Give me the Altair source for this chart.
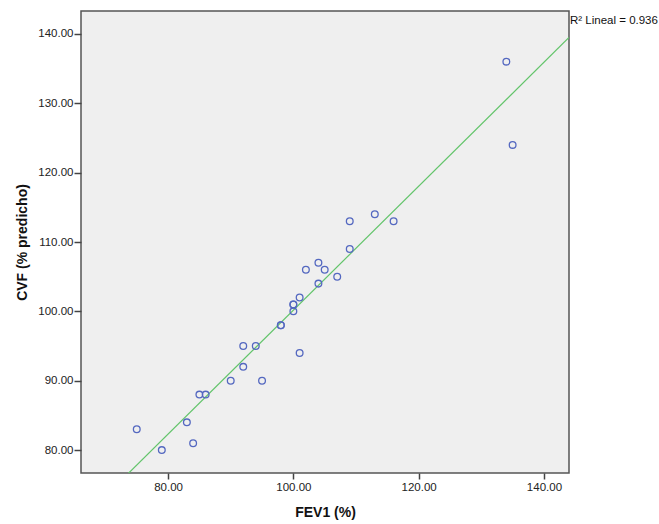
import altair as alt
import pandas as pd

fev1 = [75, 79, 83, 84, 85, 86, 90, 92, 92, 94, 95, 98, 98, 100, 100, 100,
        101, 101, 102, 104, 104, 105, 107, 109, 109, 113, 116, 134, 135]
cvf = [83, 80, 84, 81, 88, 88, 90, 92, 95, 95, 90, 98, 98, 100, 101, 101,
       102, 94, 106, 104, 107, 106, 105, 113, 109, 114, 113, 136, 124]
x_ticks = [80, 100, 120, 140]
y_ticks = [80, 90, 100, 110, 120, 130, 140]
x_domain = [66.1, 144.0]
y_domain = [76.7, 143.3]
r2_label = ["R\u00b2 Lineal = 0.936"]

df = pd.DataFrame({"FEV1": fev1, "CVF": cvf})

xs = alt.Scale(domain=x_domain, nice=False, zero=False)
ys = alt.Scale(domain=y_domain, nice=False, zero=False)

x_axis = alt.Axis(values=x_ticks, format=".2f", title="FEV1 (%)", grid=False,
                  domain=False, tickSize=6, tickColor="#444", tickWidth=1.5,
                  labelPadding=2, labelFont="Liberation Sans", labelFontSize=11.5,
                  labelColor="#222", titleFont="Liberation Sans", titleFontSize=14,
                  titleFontWeight="bold", titleColor="#111", titleY=39,
                  titleBaseline="middle")
y_axis = alt.Axis(values=y_ticks, format=".2f", title="CVF (% predicho)", grid=False,
                  domain=False, tickSize=7, tickColor="#444", tickWidth=1.5,
                  labelPadding=1, labelFont="Liberation Sans", labelFontSize=11.5,
                  labelColor="#222", titleFont="Liberation Sans", titleFontSize=14,
                  titleFontWeight="bold", titleColor="#111", titleX=-59,
                  titleBaseline="middle")

base = alt.Chart(df)

points = base.mark_point(shape="circle", filled=False, size=45, strokeWidth=1.3,
                         color="#5468C0", opacity=1).encode(
    x=alt.X("FEV1:Q", scale=xs, axis=x_axis),
    y=alt.Y("CVF:Q", scale=ys, axis=y_axis),
)

fit = base.transform_regression("FEV1", "CVF", extent=x_domain).mark_line(
    color="#62C46A", strokeWidth=1.2, clip=True).encode(
    x=alt.X("FEV1:Q", scale=xs),
    y=alt.Y("CVF:Q", scale=ys),
)

label = alt.Chart(pd.DataFrame({"t": r2_label})).mark_text(
    align="left", baseline="middle", font="Liberation Sans", fontSize=11.5,
    color="#111").encode(text="t:N", x=alt.value(489), y=alt.value(10))

chart = (fit + points + label).properties(
    width=488, height=462,
    autosize=alt.AutoSizeParams(type="none"),
    padding={"left": 81, "top": 11, "right": 90, "bottom": 51},
).configure_view(stroke="#555", strokeWidth=1.5, fill="#EFEFEF")

chart.save("out.html", embed_options={"renderer": "svg", "actions": False})
